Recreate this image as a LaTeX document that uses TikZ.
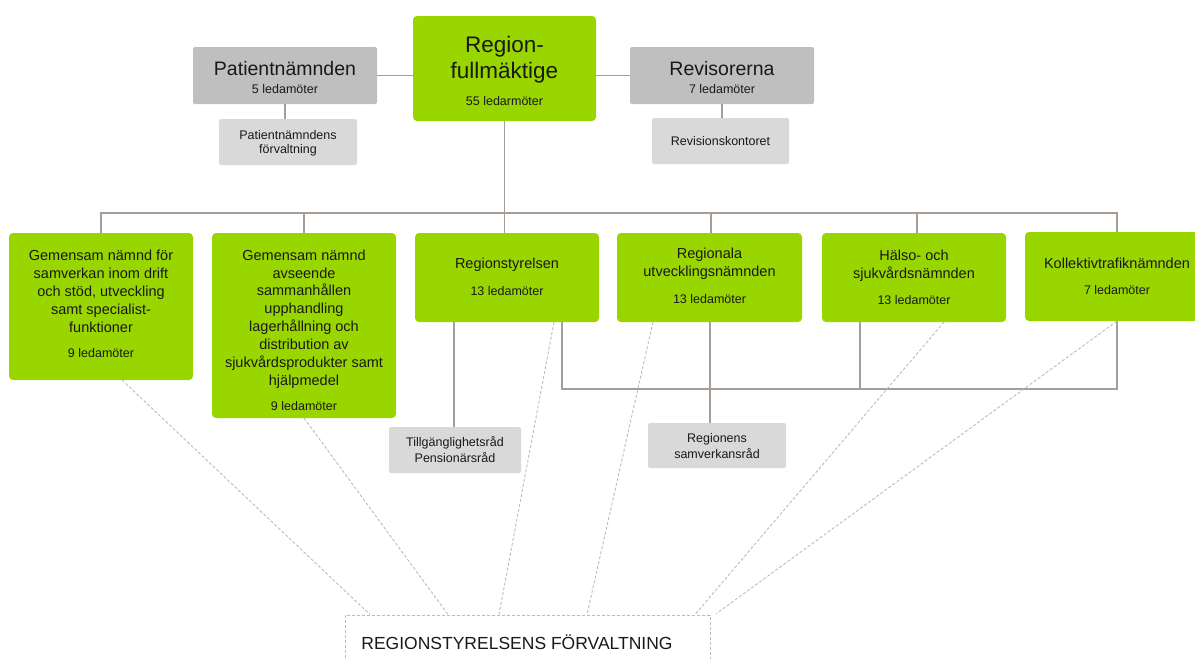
\documentclass[tikz,border=0pt]{standalone}
\usepackage{fontspec}
\setmainfont{Liberation Sans}
\definecolor{grn}{RGB}{153,214,0}
\definecolor{gmid}{RGB}{191,191,191}
\definecolor{glt}{RGB}{217,217,217}
\definecolor{lnc}{RGB}{165,157,150}
\definecolor{dsc}{RGB}{190,186,182}
\definecolor{tx}{RGB}{25,25,25}
\newcommand{\fsz}[2]{\fontsize{#1}{#2}\selectfont}
\begin{document}
\begin{tikzpicture}[x=1pt,y=-1pt,
 gbox/.style={fill=grn, rounded corners=4pt, inner sep=0pt, outer sep=0pt},
 mbox/.style={fill=gmid, rounded corners=2pt, inner sep=0pt, outer sep=0pt},
 lbox/.style={fill=glt, rounded corners=2pt, inner sep=0pt, outer sep=0pt},
 txt/.style={inner sep=0pt, align=center, text=tx},
 big/.style={txt, font=\fsz{22.5}{26}},
 mid/.style={txt, font=\fsz{19.5}{22}},
 body/.style={txt, font=\fsz{14.5}{17.9}},
 small/.style={txt, font=\fsz{12.5}{15}},
 conn/.style={draw=lnc, line width=1.4pt},
 dconn/.style={draw=dsc, line width=0.9pt, dash pattern=on 3pt off 2pt},
]
\path[use as bounding box] (0,0) rectangle (1195,659);
\clip (0,0) rectangle (1195,659);

% boxes
\node[gbox, minimum width=183pt, minimum height=105pt] (rf) at (504.5,68.5) {};
\node[mbox, minimum width=184pt, minimum height=57pt] (pn) at (285,75.5) {};
\node[lbox, minimum width=138pt, minimum height=46pt] (pnf) at (288,142) {};
\node[mbox, minimum width=184pt, minimum height=57pt] (rev) at (722,75.5) {};
\node[lbox, minimum width=137pt, minimum height=46pt] (revk) at (720.5,141) {};

\node[gbox, minimum width=184pt, minimum height=147pt] (b1) at (101,306.5) {};
\node[gbox, minimum width=184pt, minimum height=185pt] (b2) at (304,325.5) {};
\node[gbox, minimum width=184pt, minimum height=89pt] (b3) at (507,277.5) {};
\node[gbox, minimum width=185pt, minimum height=89pt] (b4) at (709.5,277.5) {};
\node[gbox, minimum width=184pt, minimum height=89pt] (b5) at (914,277.5) {};
\node[gbox, minimum width=184pt, minimum height=89pt] (b6) at (1117,276.5) {};

\node[lbox, minimum width=132pt, minimum height=46pt] (tr) at (455,450) {};
\node[lbox, minimum width=138pt, minimum height=45pt] (rs) at (717,445.5) {};

\node[draw=dsc, line width=0.9pt, dash pattern=on 3pt off 2pt, fill=white, inner sep=0pt,
      minimum width=365pt, minimum height=60pt] (rsf) at (527.5,645) {};

% texts
\node[big] (rft) at (504.5,60) {Region-\\fullmäktige};
\node[small] (rfl) at (504.5,101) {55 ledarmöter};
\node[mid] (pnt) at (285,69) {Patientnämnden};
\node[small] (pnl) at (285,89) {5 ledamöter};
\node[mid] (revt) at (722,69) {Revisorerna};
\node[small] (revl) at (722,89) {7 ledamöter};
\node[small, font=\fsz{12.5}{14}] (pnft) at (288,143) {Patientnämndens\\förvaltning};
\node[small] (revkt) at (720.5,141) {Revisionskontoret};

\node[body] (b1t) at (101,291.5) {Gemensam nämnd för\\samverkan inom drift\\och stöd, utveckling\\samt specialist-\\funktioner};
\node[small] (b1l) at (101,353) {9 ledamöter};
\node[body] (b2t) at (304,319) {Gemensam nämnd\\avseende\\sammanhållen\\upphandling\\lagerhållning och\\distribution av\\sjukvårdsprodukter samt\\hjälpmedel};
\node[small] (b2l) at (304,406) {9 ledamöter};
\node[body] (b3t) at (507,265) {Regionstyrelsen};
\node[small] (b3l) at (507,291) {13 ledamöter};
\node[body] (b4t) at (709.5,264) {Regionala\\utvecklingsnämnden};
\node[small] (b4l) at (709.5,299) {13 ledamöter};
\node[body] (b5t) at (914,265.5) {Hälso- och\\sjukvårdsnämnden};
\node[small] (b5l) at (914,300) {13 ledamöter};
\node[body] (b6t) at (1117,263) {Kollektivtrafiknämnden};
\node[small] (b6l) at (1117,290) {7 ledamöter};

\node[small, font=\fsz{12.5}{16}] (trt) at (455,450) {Tillgänglighetsråd\\Pensionärsråd};
\node[small, font=\fsz{12.5}{16}] (rst) at (717,446) {Regionens\\samverkansråd};
\node[txt, font=\fsz{17.5}{20}] (rsft) at (517,642) {REGIONSTYRELSENS FÖRVALTNING};

% solid connectors
\coordinate (busY) at (0,213);
\coordinate (lowY) at (0,389);
\draw[conn] (pn.east) -- (pn.east -| rf.west);
\draw[conn] (rev.west) -- (rev.west -| rf.east);
\draw[conn] (pnf.north -| pn.south) -- (pn.south);
\draw[conn] (revk.north -| rev.south) -- (rev.south);
\draw[conn] (rf.south) -- (rf.south |- b3.north);
\draw[conn] (b1.north) -- (b1.north |- busY) -- (b6.north |- busY) -- (b6.north);
\draw[conn] (b2.north |- busY) -- (b2.north);
\draw[conn] ([xshift=1.5pt]b4.north |- busY) -- ([xshift=1.5pt]b4.north);
\draw[conn] ([xshift=3pt]b5.north |- busY) -- ([xshift=3pt]b5.north);
\draw[conn] ([xshift=55pt]b3.south) -- ([xshift=55pt]b3.south |- lowY) -- (b6.south |- lowY) -- (b6.south);
\draw[conn] ([xshift=-54pt]b5.south) -- ([xshift=-54pt]b5.south |- lowY);
\draw[conn] ([xshift=-53pt]b3.south) -- ([xshift=-53pt]b3.south |- tr.north);
\draw[conn] ([xshift=0.5pt]b4.south) -- ([xshift=0.5pt]b4.south |- rs.north);

% dashed connectors
\draw[dconn] ([xshift=21pt]b1.south) -- ([xshift=-157.5pt]rsf.north);
\draw[dconn] (b2.south) -- ([xshift=-79.5pt]rsf.north);
\draw[dconn] ([xshift=47pt]b3.south) -- ([xshift=-28.5pt]rsf.north);
\draw[dconn] ([xshift=-56.5pt]b4.south) -- ([xshift=59.5pt]rsf.north);
\draw[dconn] ([xshift=30pt]b5.south) -- ([xshift=167.5pt]rsf.north);
\draw[dconn] (b6.south) -- ([xshift=6pt,yshift=1pt]rsf.north east);
\end{tikzpicture}
\end{document}
